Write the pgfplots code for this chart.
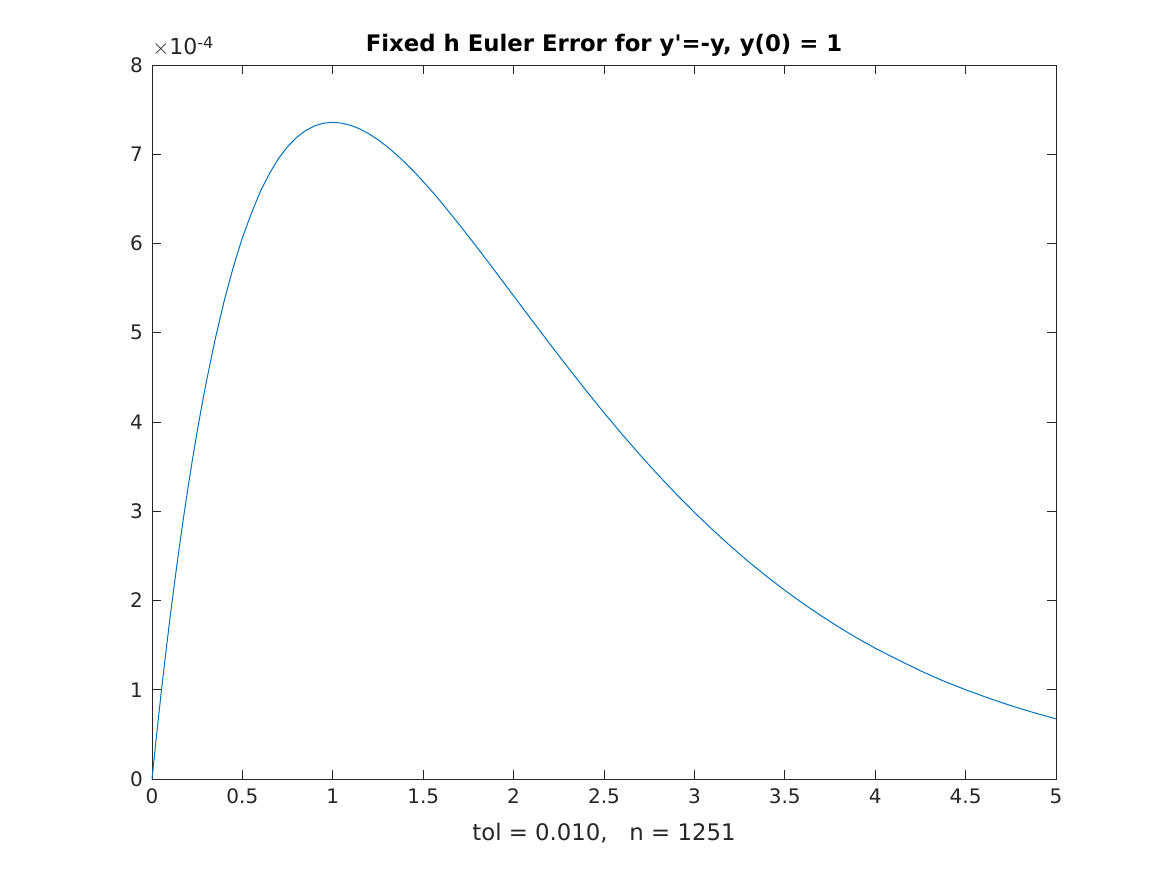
\documentclass[border=0pt]{standalone}
\usepackage{pgfplots}
\pgfplotsset{compat=1.18}
\usepackage{fontspec}
\setmainfont{DejaVu Sans}
\newfontfamily\plainfont{DejaVu Sans}
\definecolor{mblue}{rgb}{0,0.447,0.741}
\definecolor{mgray}{rgb}{0.15,0.15,0.15}
\begin{document}
\begin{tikzpicture}
\begin{axis}[name=ax,
  scale only axis, width=452pt, height=357pt,
  xmin=0, xmax=5, ymin=0, ymax=8,
  xtick={0,0.5,...,5}, ytick={0,1,...,8},
  xticklabels={0,0.5,1,1.5,2,2.5,3,3.5,4,4.5,5},
  tick align=inside, major tick length=4.5pt,
  axis line style={mgray, line width=0.4pt},
  every tick/.style={mgray, line width=0.4pt},
  tick label style={font=\fontsize{10}{12}\selectfont, text=mgray},
  /pgf/number format/assume math mode=true,
  xticklabel style={yshift=-1.5pt},
  yticklabel style={xshift=-1pt},
  title={\plainfont\bfseries Fixed h Euler Error for y'=-y, y(0) = 1},
  title style={font=\fontsize{11.4}{13}\selectfont, yshift=-5pt},
  xlabel={tol = 0.010,\ \ \ n = 1251},
  xlabel style={font=\fontsize{11.4}{13}\selectfont, text=mgray, yshift=-2.5pt},
  clip=false,
]
\addplot[mblue, line width=0.5pt] coordinates {
(0,0) (0.025,0.4877) (0.05,0.9512) (0.075,1.3916) (0.1,1.8097) (0.125,2.2062) (0.15,2.5821) (0.175,2.9381)
(0.2,3.2749) (0.225,3.5942) (0.25,3.8940) (0.275,4.1770) (0.3,4.4449) (0.35,4.9328) (0.4,5.3626) (0.45,5.7387) (0.5,6.0653)
(0.55,6.3400) (0.6,6.5857) (0.65,6.7850) (0.7,6.9522) (0.75,7.0855) (0.8,7.1893) (0.85,7.2655) (0.9,7.3183) (0.95,7.3490) (1.0,7.3576)
(1.05,7.3486) (1.1,7.3232) (1.15,7.2830) (1.2,7.2287) (1.25,7.1627) (1.3,7.0858) (1.35,6.9994) (1.4,6.9047) (1.45,6.8032) (1.5,6.6939) (1.55,6.5805) (1.6,6.4607)
(1.7,6.2113) (1.8,5.9508) (1.9,5.6836) (2.0,5.4134) (2.1,5.1436) (2.2,4.8753) (2.3,4.6129) (2.4,4.3545) (2.5,4.1042) (2.6,3.8622)
(2.7,3.6290) (2.8,3.4054) (2.9,3.1918) (3.0,2.9872) (3.1,2.7936) (3.2,2.6088) (3.3,2.4343) (3.4,2.2694) (3.5,2.1143) (3.6,1.9673) (3.7,1.8301) (3.8,1.7002)
(3.9,1.5784) (4.0,1.4653) (4.125,1.3367) (4.25,1.2125) (4.375,1.1006) (4.5,0.9998) (4.625,0.9075) (4.75,0.8219) (4.875,0.7446) (5.0,0.6738)
};
\node[anchor=south west, inner sep=0pt, text=mgray, font=\fontsize{11}{13}\selectfont] at ([yshift=4pt]rel axis cs:0,1) {$\times$10\raisebox{0.5ex}{\fontsize{8}{9}\selectfont -4}};
\end{axis}
\path ([xshift=-76pt,yshift=-48pt]ax.south west) rectangle ([xshift=55.5pt,yshift=32.5pt]ax.north east);
\end{tikzpicture}
\end{document}
